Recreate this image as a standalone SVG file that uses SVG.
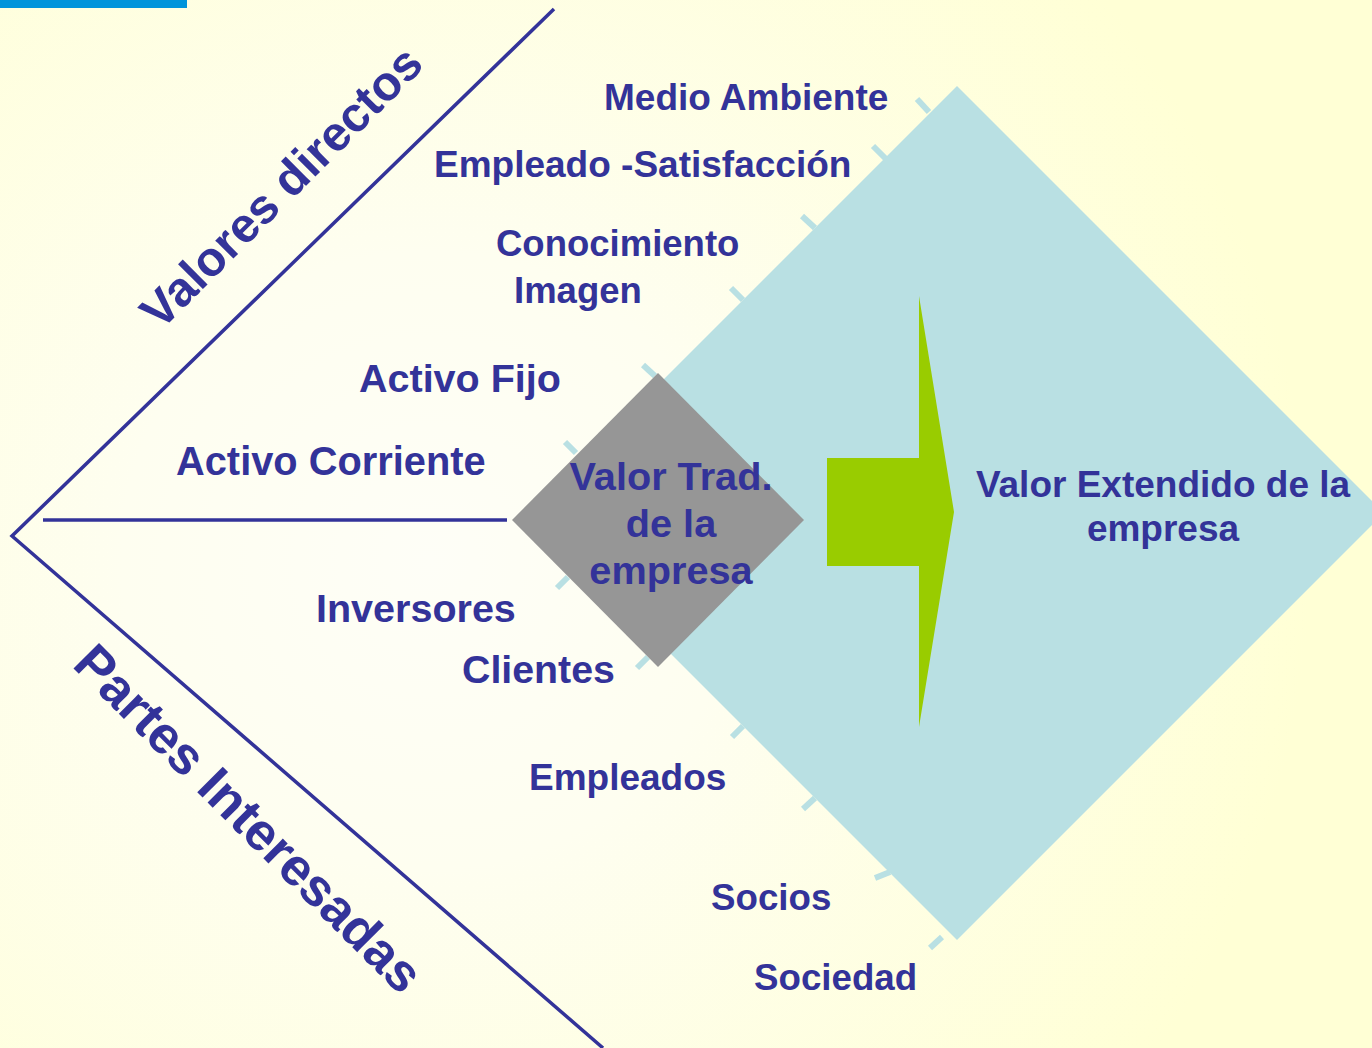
<svg xmlns="http://www.w3.org/2000/svg" width="1372" height="1048" viewBox="0 0 1372 1048">
<style>
.t{font-family:"Liberation Sans",Arial,sans-serif;font-weight:bold;fill:#333399}
.tk{stroke:#B9E0E3;stroke-width:6;stroke-linecap:butt}
.ln{stroke:#333399;stroke-width:3.5;fill:none}
</style>
<defs>
<radialGradient id="bg" gradientUnits="userSpaceOnUse" cx="430" cy="560" r="880">
<stop offset="0" stop-color="#FEFEF7"/>
<stop offset="0.35" stop-color="#FEFEF0"/>
<stop offset="1" stop-color="#FFFFD5"/>
</radialGradient>
</defs>
<rect width="1372" height="1048" fill="url(#bg)"/>
<rect x="0" y="0" width="187" height="8" fill="#0094DB"/>
<g id="connectors">
<polyline class="ln" points="554,9 12,536 603,1048"/>
<line class="ln" x1="43" y1="520" x2="507" y2="520"/>
</g>
<g id="extended-diamond">
<polygon points="957,86 1384,513 957,940 530,513" fill="#B9E0E3"/>
<g id="ticks">
<line class="tk" x1="917" y1="99" x2="929" y2="112"/>
<line class="tk" x1="873" y1="146" x2="886" y2="159"/>
<line class="tk" x1="802" y1="216" x2="815" y2="228"/>
<line class="tk" x1="731" y1="288" x2="743" y2="300"/>
<line class="tk" x1="643" y1="365" x2="655" y2="376"/>
<line class="tk" x1="565" y1="442" x2="576" y2="453"/>
<line class="tk" x1="557" y1="588" x2="568" y2="577"/>
<line class="tk" x1="637" y1="668" x2="648" y2="657"/>
<line class="tk" x1="732" y1="737" x2="743" y2="726"/>
<line class="tk" x1="803" y1="809" x2="815" y2="798"/>
<line class="tk" x1="875" y1="878" x2="890" y2="872"/>
<line class="tk" x1="930" y1="948" x2="942" y2="937"/>
</g>
</g>
<g id="traditional-diamond">
<polygon points="658,373 804,520 658,667 512,520" fill="#969696"/>
</g>
<g id="arrow">
<polygon points="827,458 919,458 919,296 954,512 919,727 919,566 827,566" fill="#99CC00"/>
</g>
<g id="labels">
<text class="t" x="604" y="110" font-size="37">Medio Ambiente</text>
<text class="t" x="434" y="177" font-size="37">Empleado -Satisfacción</text>
<text class="t" x="496" y="256" font-size="36.5">Conocimiento</text>
<text class="t" x="514" y="303" font-size="36.5">Imagen</text>
<text class="t" x="359" y="392" font-size="39.5">Activo Fijo</text>
<text class="t" x="176" y="475" font-size="39.8">Activo Corriente</text>
<text class="t" x="316" y="622" font-size="39.5">Inversores</text>
<text class="t" x="462" y="683" font-size="39.3">Clientes</text>
<text class="t" x="529" y="790" font-size="37">Empleados</text>
<text class="t" x="711" y="910" font-size="36.7">Socios</text>
<text class="t" x="754" y="990" font-size="36.7">Sociedad</text>
</g>
<g id="node-trad-text">
<text class="t" font-size="39.7" text-anchor="middle"><tspan x="671" y="490">Valor Trad.</tspan><tspan x="671" y="537">de la</tspan><tspan x="671" y="584">empresa</tspan></text>
</g>
<g id="node-ext-text">
<text class="t" font-size="37" text-anchor="middle"><tspan x="1163" y="497">Valor Extendido de la</tspan><tspan x="1163" y="541">empresa</tspan></text>
</g>
<g id="axis-labels">
<text class="t" font-size="48.5" text-anchor="middle" transform="translate(293,199) rotate(-45)">Valores directos</text>
<text class="t" font-size="52.5" text-anchor="middle" transform="translate(236,831) rotate(45)">Partes Interesadas</text>
</g>
</svg>
